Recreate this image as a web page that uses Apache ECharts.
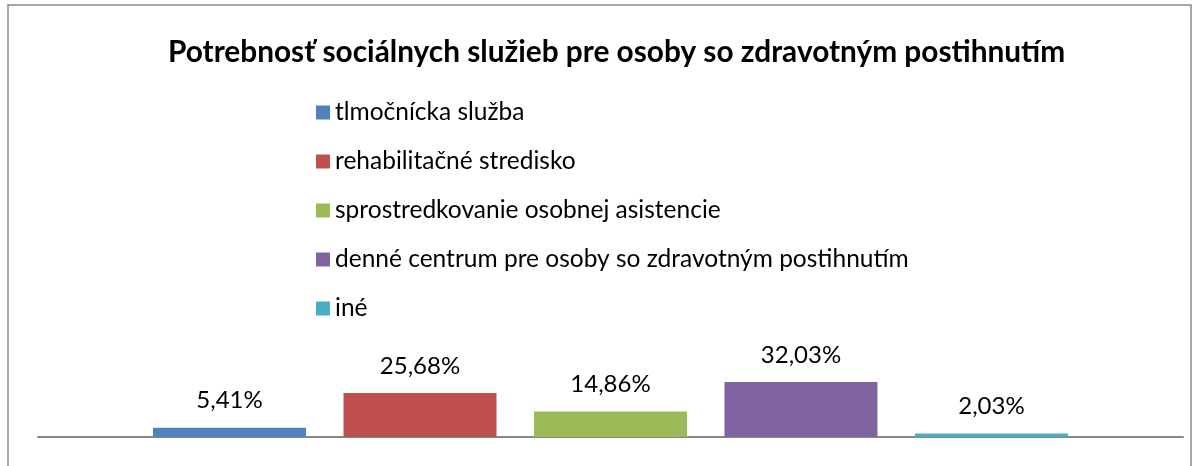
<!DOCTYPE html>
<html>
<head>
<meta charset="utf-8">
<script src="https://cdn.jsdelivr.net/npm/echarts@6/dist/echarts.min.js"></script>
<style>
  html, body { margin: 0; padding: 0; background: #fff; }
  #main { width: 1200px; height: 466px; }
</style>
</head>
<body>
<div id="main"></div>
<script>
// data
var chartTitle = 'Potrebnosť sociálnych služieb pre osoby so zdravotným postihnutím';
var categories = [''];
var seriesNames = ['tlmočnícka služba', 'rehabilitačné stredisko', 'sprostredkovanie osobnej asistencie', 'denné centrum pre osoby so zdravotným postihnutím', 'iné'];
var seriesValues = [5.41, 25.68, 14.86, 32.03, 2.03];
var seriesColors = ['#4F81BD', '#C0504D', '#9BBB59', '#8064A2', '#4BACC6'];

var myChart = echarts.init(document.getElementById('main'));

var series = [];
for (var i = 0; i < seriesNames.length; i++) {
  series.push({
    name: seriesNames[i],
    type: 'bar',
    data: [seriesValues[i]],
    barWidth: 153,
    barGap: '24.5%',
    itemStyle: { color: seriesColors[i] },
    label: {
      show: true,
      position: 'top',
      distance: 15,
      color: '#000',
      fontFamily: 'Lato',
      fontSize: 24,
      formatter: function (p) {
        return p.value.toFixed(2).replace('.', ',') + '%';
      }
    }
  });
}

myChart.setOption({
  animation: false,
  title: {
    text: chartTitle,
    left: 163,
    top: 32,
    textStyle: { fontFamily: 'Lato', fontWeight: 'bold', fontSize: 29.8, color: '#000' }
  },
  legend: {
    orient: 'vertical',
    left: 311,
    top: 95,
    itemWidth: 14,
    itemHeight: 14,
    itemGap: 24,
    icon: 'rect',
    textStyle: { fontFamily: 'Lato', fontSize: 24.5, color: '#000', lineHeight: 24 },
    data: seriesNames
  },
  grid: { left: 38, right: 17, top: 377, bottom: 29 },
  xAxis: {
    type: 'category',
    data: categories,
    axisLine: { lineStyle: { color: '#888', width: 2 } },
    axisTick: { show: false },
    axisLabel: { show: false }
  },
  yAxis: {
    type: 'value',
    min: 0,
    max: 35,
    show: false,
    splitLine: { show: false }
  },
  graphic: [{
    type: 'rect',
    shape: { x: 8, y: 5, width: 1183, height: 480 },
    style: { fill: 'none', stroke: '#8a8a8a', lineWidth: 1.5 },
    silent: true
  }],
  series: series
});
</script>
</body>
</html>
